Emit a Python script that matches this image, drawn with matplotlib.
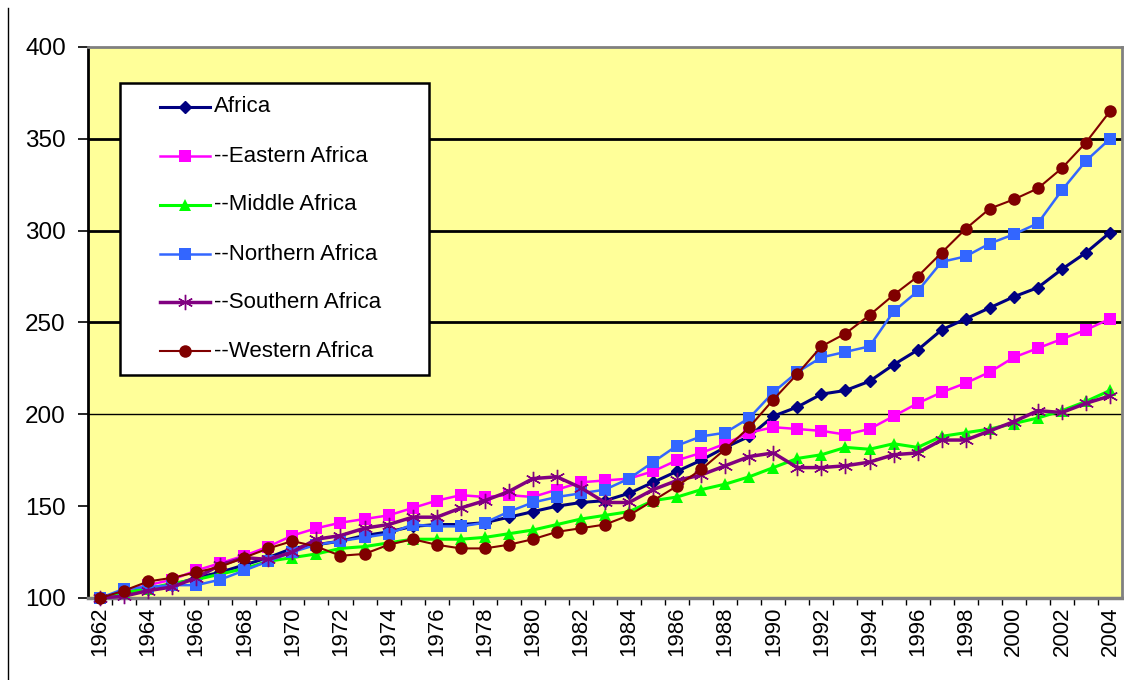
import matplotlib
matplotlib.use("Agg")
import matplotlib.pyplot as plt
from matplotlib.lines import Line2D
from matplotlib.patches import Rectangle

plt.rcParams['font.family'] = ['Liberation Sans', 'DejaVu Sans']

years = list(range(1962, 2005))

africa = [100, 103, 105, 107, 111, 114, 118, 122, 127, 129, 131, 134, 136, 139, 140, 140, 141, 144,
          147, 150, 152, 153, 157, 163, 169, 175, 182, 188, 199, 204, 211, 213, 218, 227, 235, 246,
          252, 258, 264, 269, 279, 288, 299]
eastern = [100, 104, 107, 110, 115, 119, 123, 128, 134, 138, 141, 143, 145, 149, 153, 156, 155, 156,
           155, 159, 163, 164, 165, 169, 175, 179, 184, 190, 193, 192, 191, 189, 192, 199, 206, 212,
           217, 223, 231, 236, 241, 246, 252]
middle = [100, 103, 105, 108, 110, 113, 116, 120, 122, 124, 127, 128, 130, 132, 132, 132, 133, 135,
          137, 140, 143, 145, 147, 153, 155, 159, 162, 166, 171, 176, 178, 182, 181, 184, 182, 188,
          190, 192, 195, 198, 202, 207, 213]
northern = [100, 105, 106, 107, 107, 110, 115, 120, 125, 129, 131, 133, 135, 140, 139, 139, 141, 147,
            152, 155, 157, 159, 165, 174, 183, 188, 190, 198, 212, 223, 231, 234, 237, 256, 267, 283,
            286, 293, 298, 304, 322, 338, 350]
southern = [100, 101, 104, 106, 111, 118, 122, 121, 125, 132, 134, 138, 140, 144, 144, 149, 153, 158,
            165, 166, 160, 152, 152, 159, 164, 167, 172, 177, 179, 171, 171, 172, 174, 178, 179, 186,
            186, 191, 196, 202, 201, 206, 210]
western = [100, 104, 109, 111, 114, 117, 122, 127, 131, 128, 123, 124, 129, 132, 129, 127, 127, 129,
           132, 136, 138, 140, 145, 153, 161, 170, 181, 193, 208, 222, 237, 244, 254, 265, 275, 288,
           301, 312, 317, 323, 334, 348, 365]

labels = ["Africa", "--Eastern Africa", "--Middle Africa", "--Northern Africa",
          "--Southern Africa", "--Western Africa"]
series = [africa, eastern, middle, northern, southern, western]

styles = [
    dict(color="#000080", lw=2.2, marker="D", ms=6.5, mfc="#000080", mec="#000080", mew=1),
    dict(color="#FF00FF", lw=1.8, marker="s", ms=8.5, mfc="#FF00FF", mec="#FF00FF", mew=0),
    dict(color="#00FF00", lw=2.2, marker="^", ms=8.5, mfc="#00FF00", mec="#00FF00", mew=0),
    dict(color="#3366FF", lw=1.8, marker="s", ms=8.5, mfc="#3366FF", mec="#3366FF", mew=0),
    dict(color="#800080", lw=2.5, marker=(6, 2, 0), ms=11, mfc="#800080", mec="#800080", mew=1.0),
    dict(color="#800000", lw=1.5, marker="o", ms=9, mfc="#800000", mec="#800000", mew=0),
]

W, H = 1124, 680
fig = plt.figure(figsize=(W / 100, H / 100), dpi=100)
fig.patch.set_facecolor("white")
ax = fig.add_axes([88 / W, 1 - 598 / H, (1122 - 88) / W, (598 - 47) / H])
ax.set_facecolor("#FFFF99")

for vals, st in zip(series, styles):
    ax.plot(years, vals, color=st["color"], lw=st["lw"], marker=st["marker"], ms=st["ms"],
            mfc=st["mfc"], mec=st["mec"], mew=st["mew"], zorder=3, clip_on=False)

ax.set_xlim(1961.5, 2004.5)
ax.set_ylim(100, 400)

# horizontal grid lines
ax.axhline(200, color="black", lw=1.0, zorder=1)
for yv in (250, 300, 350):
    ax.axhline(yv, color="black", lw=2.0, zorder=1)

ax.set_yticks([100, 150, 200, 250, 300, 350, 400])
ax.tick_params(axis="y", direction="out", length=7, width=1.2, pad=9, labelsize=17.5)
ax.set_xticks(years[::2])
ax.set_xticklabels([str(y) for y in years[::2]], rotation=90, fontsize=16)
ax.set_xticks([y + 0.5 for y in years[:-1]], minor=True)
ax.tick_params(axis="x", which="major", length=0, pad=6)
ax.tick_params(axis="x", which="minor", length=5, width=1.0, direction="out")

for side in ("top", "right", "bottom"):
    ax.spines[side].set_color("#808080")
ax.spines["bottom"].set_linewidth(2.5)
ax.spines["top"].set_linewidth(2.0)
ax.spines["right"].set_linewidth(2.0)
ax.spines["left"].set_color("black")
ax.spines["left"].set_linewidth(2.0)

# legend (drawn manually in figure pixel coordinates)
def fx(px):
    return px / W

def fy(py):
    return 1 - py / H

fig.patches.append(Rectangle((fx(120), fy(375)), fx(429) - fx(120), fy(83) - fy(375),
                             transform=fig.transFigure, facecolor="white", edgecolor="black",
                             lw=1.8, zorder=5))
row_y = [107, 156, 205, 254, 302, 351]
for lab, st, ry in zip(labels, styles, row_y):
    fig.lines.append(Line2D([fx(160), fx(210)], [fy(ry), fy(ry)], transform=fig.transFigure,
                            color=st["color"], lw=st["lw"], zorder=6))
    fig.lines.append(Line2D([fx(185)], [fy(ry)], transform=fig.transFigure, marker=st["marker"],
                            ms=st["ms"], mfc=st["mfc"], mec=st["mec"], mew=st["mew"],
                            linestyle="none", zorder=7))
    fig.text(fx(214), fy(ry), lab, fontsize=16, va="center", ha="left", zorder=8)

# thin border line at the far left of the picture
fig.lines.append(Line2D([fx(8), fx(8)], [fy(8), fy(680)], transform=fig.transFigure,
                        color="black", lw=1.0))

fig.savefig("out.png", dpi=100)
